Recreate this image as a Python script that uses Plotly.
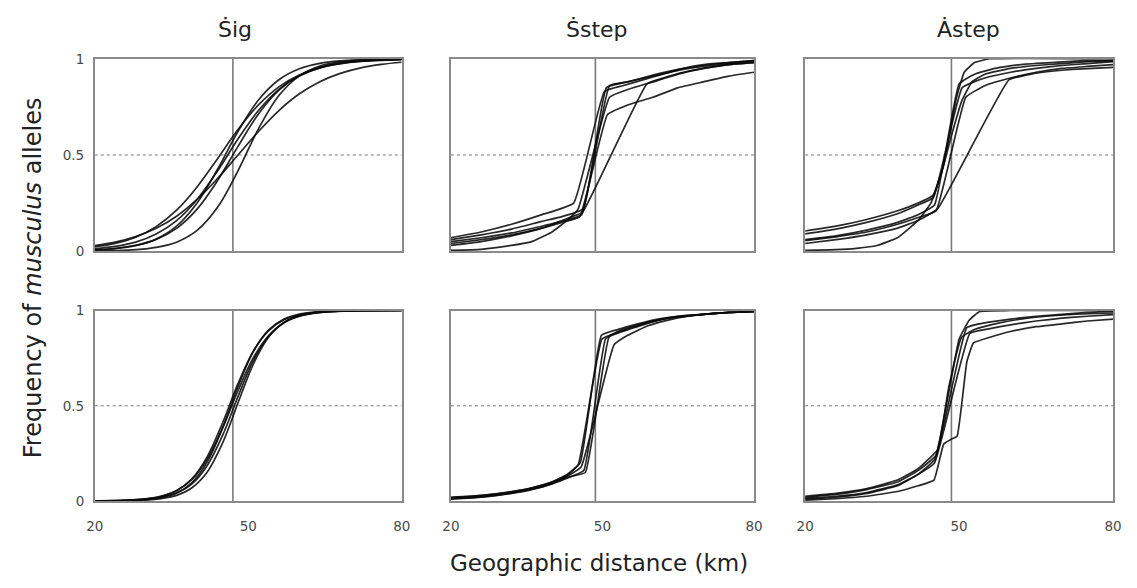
import plotly.graph_objects as go

# ---------------- data ----------------
panel_titles = ["Ṡig", "Ṡstep", "Ȧstep"]
x_ticks = [20, 50, 80]
x_tick_labels = ["20", "50", "80"]
y_ticks = [0, 0.5, 1]
y_tick_labels = ["0", "0.5", "1"]
centre_lines = [47.0, 48.6, 48.5]   # vertical centre line per column (km)
half_line = 0.5

# Row 1, Sig
sig1_x = [20, 24, 28, 32, 36, 40, 44, 48, 52, 56, 60, 64, 68, 72, 76, 80]
sig1_curves = [
    [0.023, 0.041, 0.073, 0.128, 0.213, 0.334, 0.481, 0.632, 0.760, 0.854, 0.915, 0.953, 0.974, 0.986, 0.992, 0.996],
    [0.013, 0.025, 0.047, 0.089, 0.159, 0.269, 0.417, 0.583, 0.731, 0.841, 0.911, 0.953, 0.975, 0.987, 0.993, 0.997],
    [0.007, 0.015, 0.031, 0.061, 0.119, 0.219, 0.367, 0.545, 0.713, 0.837, 0.914, 0.956, 0.979, 0.989, 0.995, 0.998],
    [0.006, 0.013, 0.029, 0.063, 0.130, 0.250, 0.426, 0.622, 0.786, 0.891, 0.948, 0.976, 0.989, 0.995, 0.998, 0.999],
    [0.001, 0.003, 0.008, 0.020, 0.047, 0.108, 0.228, 0.418, 0.636, 0.809, 0.911, 0.962, 0.984, 0.993, 0.997, 0.999],
    [0.029, 0.047, 0.076, 0.119, 0.182, 0.269, 0.378, 0.500, 0.622, 0.731, 0.818, 0.881, 0.924, 0.953, 0.971, 0.982],
]

# Row 2, Sig
sig2_x = [20, 26, 30, 33, 36, 39, 42, 45, 48, 51, 54, 57, 60, 63, 67, 72, 80]
sig2_curves = [
    [0.001, 0.004, 0.011, 0.024, 0.054, 0.116, 0.233, 0.411, 0.616, 0.787, 0.895, 0.951, 0.978, 0.990, 0.997, 0.999, 1.0],
    [0.001, 0.004, 0.012, 0.026, 0.055, 0.114, 0.221, 0.384, 0.579, 0.752, 0.869, 0.936, 0.970, 0.986, 0.995, 0.999, 1.0],
    [0.001, 0.003, 0.008, 0.019, 0.042, 0.090, 0.187, 0.345, 0.548, 0.737, 0.865, 0.937, 0.971, 0.987, 0.996, 0.999, 1.0],
    [0.000, 0.002, 0.005, 0.013, 0.030, 0.070, 0.153, 0.305, 0.515, 0.719, 0.861, 0.938, 0.973, 0.989, 0.996, 0.999, 1.0],
    [0.000, 0.002, 0.008, 0.018, 0.042, 0.097, 0.206, 0.385, 0.601, 0.785, 0.898, 0.955, 0.981, 0.992, 0.998, 1.0, 1.0],
]

# Row 1, Sstep  (x list, y list) per curve
sstep1_curves = [
    ([20, 26, 32, 38, 44.3, 50.4, 54, 58, 62, 66, 70, 75, 80],
     [0.07, 0.10, 0.14, 0.19, 0.25, 0.83, 0.86, 0.89, 0.92, 0.95, 0.97, 0.98, 0.99]),
    ([20, 26, 32, 38, 42, 45.9, 51.4, 55, 60, 65, 70, 75, 80],
     [0.05, 0.07, 0.095, 0.13, 0.155, 0.19, 0.86, 0.88, 0.91, 0.94, 0.96, 0.975, 0.985]),
    ([20, 26, 32, 38, 42, 45.5, 51, 55, 60, 65, 70, 75, 80],
     [0.04, 0.06, 0.085, 0.12, 0.15, 0.18, 0.71, 0.76, 0.80, 0.85, 0.88, 0.91, 0.93]),
    ([20, 26, 32, 36, 40, 43, 45.2, 51.4, 55, 60, 65, 70, 75, 80],
     [0.005, 0.01, 0.03, 0.05, 0.10, 0.16, 0.22, 0.80, 0.84, 0.88, 0.92, 0.95, 0.97, 0.98]),
    ([20, 26, 32, 38, 44, 46, 58.8, 62, 66, 70, 75, 80],
     [0.03, 0.05, 0.08, 0.12, 0.18, 0.20, 0.87, 0.90, 0.93, 0.95, 0.97, 0.98]),
    ([20, 26, 32, 38, 42, 46.2, 50.8, 55, 60, 65, 70, 75, 80],
     [0.06, 0.085, 0.115, 0.155, 0.18, 0.22, 0.85, 0.88, 0.915, 0.945, 0.965, 0.98, 0.99]),
]

# Row 2, Sstep
sstep2_curves = [
    ([20, 26, 32, 36, 40, 43, 45.6, 49.8, 53, 57, 61, 65, 70, 75, 80],
     [0.02, 0.03, 0.05, 0.07, 0.10, 0.14, 0.20, 0.87, 0.90, 0.93, 0.955, 0.97, 0.98, 0.99, 0.995]),
    ([20, 26, 32, 36, 40, 43, 46.3, 50.6, 53, 57, 61, 65, 70, 75, 80],
     [0.01, 0.02, 0.04, 0.06, 0.09, 0.12, 0.16, 0.85, 0.89, 0.925, 0.95, 0.97, 0.98, 0.99, 0.995]),
    ([20, 26, 32, 36, 40, 43, 45.8, 52.3, 55, 59, 63, 67, 72, 80],
     [0.015, 0.025, 0.045, 0.065, 0.095, 0.13, 0.18, 0.82, 0.87, 0.92, 0.95, 0.97, 0.985, 0.995]),
    ([20, 26, 32, 36, 40, 43, 46.6, 51.3, 54, 58, 62, 66, 72, 80],
     [0.012, 0.022, 0.042, 0.062, 0.09, 0.125, 0.15, 0.86, 0.89, 0.925, 0.955, 0.97, 0.985, 0.995]),
    ([20, 26, 32, 36, 40, 43, 45.2, 49.9, 53, 57, 61, 65, 70, 75, 80],
     [0.018, 0.028, 0.048, 0.068, 0.10, 0.135, 0.19, 0.85, 0.885, 0.92, 0.95, 0.965, 0.98, 0.99, 0.995]),
]

# Row 1, Astep
astep1_curves = [
    ([20, 26, 32, 38, 42, 44.9, 47, 49.5, 51, 53, 56, 80],
     [0.105, 0.13, 0.165, 0.21, 0.25, 0.29, 0.45, 0.80, 0.93, 0.98, 1.0, 1.0]),
    ([20, 26, 32, 38, 42, 45, 50.6, 55, 60, 65, 70, 75, 80],
     [0.09, 0.115, 0.15, 0.195, 0.24, 0.28, 0.85, 0.90, 0.93, 0.95, 0.965, 0.975, 0.985]),
    ([20, 26, 32, 38, 42, 45.5, 51.3, 55, 60, 65, 70, 75, 80],
     [0.055, 0.075, 0.10, 0.14, 0.175, 0.21, 0.80, 0.86, 0.90, 0.93, 0.95, 0.96, 0.97]),
    ([20, 26, 32, 38, 42, 45.8, 59.7, 64, 68, 72, 76, 80],
     [0.04, 0.06, 0.085, 0.12, 0.16, 0.22, 0.89, 0.92, 0.935, 0.945, 0.95, 0.955]),
    ([20, 26, 30, 34, 38, 42, 44.5, 46.5, 48.5, 50.5, 52.5, 55, 60, 65, 70, 75, 80],
     [0.005, 0.008, 0.015, 0.03, 0.07, 0.16, 0.25, 0.40, 0.60, 0.78, 0.88, 0.92, 0.95, 0.965, 0.975, 0.985, 0.99]),
    ([20, 26, 32, 38, 42, 45.2, 50, 53, 57, 62, 68, 74, 80],
     [0.06, 0.08, 0.11, 0.15, 0.19, 0.24, 0.87, 0.92, 0.95, 0.97, 0.98, 0.99, 0.99]),
]

# Row 2, Astep
astep2_curves = [
    ([20, 26, 32, 38, 42, 45.3, 47.5, 50, 52, 54, 60, 80],
     [0.01, 0.02, 0.04, 0.08, 0.14, 0.22, 0.50, 0.85, 0.95, 0.995, 1.0, 1.0]),
    ([20, 26, 32, 38, 42, 45.5, 51.5, 55, 60, 65, 70, 75, 80],
     [0.02, 0.035, 0.06, 0.10, 0.16, 0.24, 0.91, 0.935, 0.955, 0.97, 0.98, 0.99, 0.995]),
    ([20, 26, 32, 38, 42, 45.2, 52.1, 56, 60, 65, 70, 75, 80],
     [0.015, 0.025, 0.045, 0.085, 0.14, 0.20, 0.88, 0.905, 0.925, 0.945, 0.96, 0.97, 0.978]),
    ([20, 26, 32, 38, 42, 45.1, 47, 48.5, 49.6, 51.5, 52.8, 56, 60, 65, 70, 75, 80],
     [0.005, 0.012, 0.025, 0.05, 0.08, 0.11, 0.30, 0.325, 0.34, 0.73, 0.83, 0.86, 0.89, 0.915, 0.93, 0.945, 0.955]),
    ([20, 26, 32, 38, 42, 45.8, 48, 50.5, 53, 57, 62, 67, 72, 80],
     [0.025, 0.04, 0.065, 0.11, 0.17, 0.27, 0.60, 0.86, 0.90, 0.93, 0.955, 0.97, 0.98, 0.987]),
]

# ---------------- figure ----------------
# The page body keeps its default 8px margin, so the figure is drawn
# 8px in from the window corner and sized to fit inside it.
OFF = 8
W, H = 1137 - 2 * OFF, 588 - 2 * OFF


def px_x(px):
    return (px - OFF) / W


def px_y(py):
    return 1 - (py - OFF) / H


col_px = [(87, 399), (449, 757), (809, 1122)]
row_px = [(52, 250), (311, 507)]

fig = go.Figure()
CURVE = dict(color="rgba(10,10,10,0.88)", width=1.7)
FRAME = "#8a8a8a"
FONT = "DejaVu Sans, Arial, sans-serif"
TICKFONT = dict(family=FONT, size=13.5, color="#4a4a4a")

panels = {}
idx = 0
for r in range(2):
    for c in range(3):
        idx += 1
        sfx = "" if idx == 1 else str(idx)
        panels[(r, c)] = sfx
        x0, x1 = col_px[c]
        y0, y1 = row_px[r]
        xa = dict(domain=[px_x(x0), px_x(x1)], range=[20, 80], anchor="y" + sfx,
                  showgrid=False, zeroline=False, showline=True, mirror=True,
                  linecolor=FRAME, linewidth=1.6,
                  tickvals=x_ticks, ticktext=x_tick_labels,
                  showticklabels=(r == 1), ticks="outside", ticklen=12,
                  tickcolor="rgba(0,0,0,0)", tickfont=TICKFONT)
        ya = dict(domain=[px_y(y1), px_y(y0)], range=[0, 1], anchor="x" + sfx,
                  showgrid=False, zeroline=False, showline=True, mirror=True,
                  linecolor=FRAME, linewidth=1.6,
                  tickvals=y_ticks, ticktext=y_tick_labels,
                  showticklabels=(c == 0), ticks="outside", ticklen=6,
                  tickcolor="rgba(0,0,0,0)", tickfont=TICKFONT)
        fig.update_layout(**{"xaxis" + sfx: xa, "yaxis" + sfx: ya})
        # reference lines
        fig.add_trace(go.Scatter(x=[20, 80], y=[half_line, half_line], mode="lines",
                                 line=dict(color="#777777", width=1, dash="dot"),
                                 xaxis="x" + sfx, yaxis="y" + sfx, showlegend=False,
                                 hoverinfo="skip"))
        fig.add_trace(go.Scatter(x=[centre_lines[c], centre_lines[c]], y=[0, 1], mode="lines",
                                 line=dict(color="#7a7a7a", width=1.6),
                                 xaxis="x" + sfx, yaxis="y" + sfx, showlegend=False,
                                 hoverinfo="skip"))


def add_curves(r, c, curves, shape, smoothing=1.0):
    sfx = panels[(r, c)]
    for xs, ys in curves:
        fig.add_trace(go.Scatter(x=xs, y=ys, mode="lines",
                                 line=dict(CURVE, shape=shape, smoothing=smoothing),
                                 xaxis="x" + sfx, yaxis="y" + sfx, showlegend=False))


add_curves(0, 0, [(sig1_x, ys) for ys in sig1_curves], "spline")
add_curves(1, 0, [(sig2_x, ys) for ys in sig2_curves], "spline")
add_curves(0, 1, sstep1_curves, "spline", 0.35)
add_curves(1, 1, sstep2_curves, "spline", 0.35)
add_curves(0, 2, astep1_curves, "spline", 0.35)
add_curves(1, 2, astep2_curves, "spline", 0.35)

TITLEFONT = dict(family=FONT, size=22, color="#222222")
title_px = [230, 597, 975]
for c in range(3):
    fig.add_annotation(text=panel_titles[c], x=px_x(title_px[c]), y=px_y(22),
                       xref="paper", yref="paper", showarrow=False,
                       xanchor="center", yanchor="middle", font=TITLEFONT)

fig.add_annotation(text="Geographic distance (km)", x=px_x(600), y=px_y(571),
                   xref="paper", yref="paper", showarrow=False,
                   xanchor="center", yanchor="middle",
                   font=dict(family=FONT, size=23, color="#222222"))
fig.add_annotation(text="Frequency of <i>musculus</i> alleles", x=px_x(25), y=px_y(277),
                   xref="paper", yref="paper", showarrow=False, textangle=-90,
                   xanchor="center", yanchor="middle",
                   font=dict(family=FONT, size=24, color="#222222"))

fig.update_layout(width=W, height=H, margin=dict(l=0, r=0, t=0, b=0),
                  plot_bgcolor="white", paper_bgcolor="white", showlegend=False)

fig.write_html("out.html")
